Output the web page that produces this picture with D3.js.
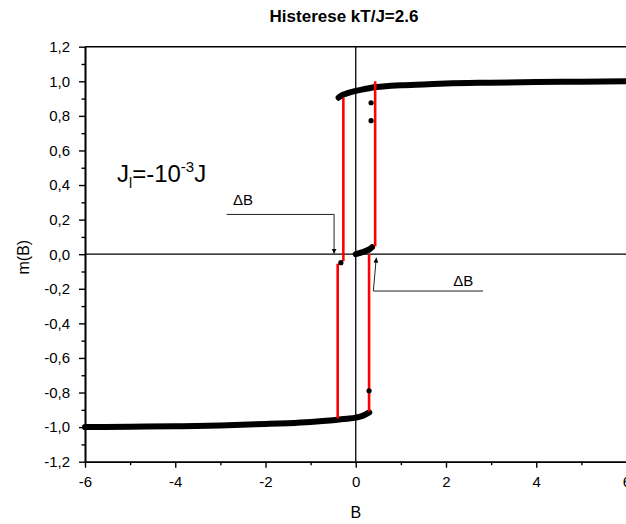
<!DOCTYPE html>
<html>
<head>
<meta charset="utf-8">
<script src="https://cdn.jsdelivr.net/npm/d3@7"></script>
<style>
  body { margin: 0; background: #fff; }
  svg { display: block; }
  text { font-family: Arial, "Liberation Sans", sans-serif; fill: #000; }
</style>
</head>
<body>
<svg id="chart" width="626" height="524"></svg>
<script>
// Hysteresis loop m(B), kT/J = 2.6

// lower (descending-field) branch
const lowerB = [-6, -5, -4, -3, -2, -1.5, -1, -0.5, -0.2, 0, 0.15, 0.3];
const lowerM = [-1.0, -0.998, -0.995, -0.99, -0.982, -0.977, -0.97, -0.96, -0.952, -0.945, -0.935, -0.915];

// upper branch
const upperB = [-0.38, -0.3, -0.2, 0, 0.2, 0.4, 0.6, 1, 1.5, 2, 3, 4, 5, 6];
const upperM = [0.905, 0.92, 0.93, 0.945, 0.955, 0.965, 0.97, 0.977, 0.982, 0.987, 0.992, 0.996, 0.998, 1.0];

// short intermediate branch near m = 0
const middleB = [0, 0.1, 0.2, 0.3, 0.36];
const middleM = [0.0, 0.008, 0.017, 0.028, 0.04];

// vertical jumps (red)
const jumpB    = [-0.275, -0.40, 0.43, 0.295];
const jumpFrom = [0.905, -0.055, 0.045, 0.0];
const jumpTo   = [-0.04, -0.95, 1.0, -0.91];

// isolated points
const dotB = [0.34, 0.34, -0.33, 0.295];
const dotM = [0.876, 0.772, -0.049, -0.79];

// axes
const xTicks = [-6, -4, -2, 0, 2, 4, 6];
const xTickLabels = ["-6", "-4", "-2", "0", "2", "4", "6"];
const xMinor = [-5, -3, -1, 1, 3, 5];
const yTicks = [-1.2, -1.0, -0.8, -0.6, -0.4, -0.2, 0.0, 0.2, 0.4, 0.6, 0.8, 1.0, 1.2];
const yTickLabels = ["-1,2", "-1,0", "-0,8", "-0,6", "-0,4", "-0,2", "0,0", "0,2", "0,4", "0,6", "0,8", "1,0", "1,2"];
const yMinor = [-1.1, -0.9, -0.7, -0.5, -0.3, -0.1, 0.1, 0.3, 0.5, 0.7, 0.9, 1.1];

const svg = d3.select("#chart");
const x = d3.scaleLinear().domain([-6, 6]).range([85, 626.5]);
const y = d3.scaleLinear().domain([-1.2, 1.2]).range([461.7, 46.7]);

// zero lines
svg.append("line").attr("x1", x(-6)).attr("x2", x(6)).attr("y1", y(0)).attr("y2", y(0))
  .attr("stroke", "#000").attr("stroke-width", 1.3);
svg.append("line").attr("x1", x(0)).attr("x2", x(0)).attr("y1", y(1.2)).attr("y2", y(-1.2))
  .attr("stroke", "#000").attr("stroke-width", 1.3);

// top frame line
svg.append("line").attr("x1", x(-6)).attr("x2", x(6)).attr("y1", y(1.2)).attr("y2", y(1.2))
  .attr("stroke", "#000").attr("stroke-width", 1.6);

// axes
svg.append("g").attr("transform", `translate(0,${y(-1.2)})`)
  .call(d3.axisBottom(x).tickValues(xTicks).tickFormat((d, i) => xTickLabels[i])
    .tickSize(6).tickSizeOuter(0).tickPadding(9));
svg.append("g").attr("transform", `translate(0,${y(-1.2)})`)
  .call(d3.axisBottom(x).tickValues(xMinor).tickFormat("").tickSize(3.5).tickSizeOuter(0));
svg.append("g").attr("transform", `translate(${x(-6)},0)`)
  .call(d3.axisLeft(y).tickValues(yTicks).tickFormat((d, i) => yTickLabels[i])
    .tickSize(6).tickSizeOuter(0).tickPadding(9));
svg.append("g").attr("transform", `translate(${x(-6)},0)`)
  .call(d3.axisLeft(y).tickValues(yMinor).tickFormat("").tickSize(3.5).tickSizeOuter(0));

svg.selectAll(".domain").attr("stroke", "#000").attr("stroke-width", 1.6);
svg.selectAll(".tick line").attr("stroke", "#000").attr("stroke-width", 1.4);
svg.selectAll(".tick text").attr("font-size", 15).attr("font-family", "Arial, 'Liberation Sans', sans-serif");

// branches
const line = d3.line().x(d => x(d[0])).y(d => y(d[1])).curve(d3.curveMonotoneX);
const branches = [
  d3.zip(lowerB, lowerM),
  d3.zip(upperB, upperM),
  d3.zip(middleB, middleM)
];
svg.append("g").selectAll("path").data(branches).join("path")
  .attr("d", line).attr("fill", "none").attr("stroke", "#000")
  .attr("stroke-width", 6).attr("stroke-linecap", "round");

// jumps
svg.append("g").selectAll("line").data(jumpB).join("line")
  .attr("x1", d => x(d)).attr("x2", d => x(d))
  .attr("y1", (d, i) => y(jumpFrom[i])).attr("y2", (d, i) => y(jumpTo[i]))
  .attr("stroke", "#ff0000").attr("stroke-width", 2.6);

// isolated points
svg.append("g").selectAll("circle").data(dotB).join("circle")
  .attr("cx", d => x(d)).attr("cy", (d, i) => y(dotM[i])).attr("r", 2.6).attr("fill", "#000");

// ΔB annotations
const defs = svg.append("defs");
defs.append("marker").attr("id", "arrow").attr("viewBox", "0 0 10 10")
  .attr("refX", 10).attr("refY", 5).attr("markerWidth", 5).attr("markerHeight", 10)
  .attr("markerUnits", "userSpaceOnUse").attr("orient", "auto")
  .append("path").attr("d", "M0,0 L10,5 L0,10 Z").attr("fill", "#000");

const annStroke = "#222";
// left
svg.append("line").attr("x1", x(-2.86)).attr("x2", x(-0.48)).attr("y1", y(0.23)).attr("y2", y(0.23))
  .attr("stroke", annStroke).attr("stroke-width", 1);
svg.append("line").attr("x1", x(-0.48)).attr("x2", x(-0.48)).attr("y1", y(0.23)).attr("y2", y(0.003))
  .attr("stroke", annStroke).attr("stroke-width", 1).attr("marker-end", "url(#arrow)");
svg.append("text").attr("x", x(-2.72)).attr("y", y(0.285)).attr("font-size", 15).text("\u0394B");
// right
svg.append("line").attr("x1", x(0.39)).attr("x2", x(2.82)).attr("y1", y(-0.213)).attr("y2", y(-0.213))
  .attr("stroke", annStroke).attr("stroke-width", 1);
svg.append("line").attr("x1", x(0.39)).attr("x2", x(0.455)).attr("y1", y(-0.213)).attr("y2", y(-0.02))
  .attr("stroke", annStroke).attr("stroke-width", 1).attr("marker-end", "url(#arrow)");
svg.append("text").attr("x", x(2.16)).attr("y", y(-0.184)).attr("font-size", 15).text("\u0394B");

// coupling label
const jl = svg.append("text").attr("x", 117).attr("y", 182).attr("font-size", 24);
jl.append("tspan").text("J");
jl.append("tspan").attr("font-size", 14).attr("dy", 6).text("l");
jl.append("tspan").attr("dy", -6).text("=-10");
jl.append("tspan").attr("font-size", 15).attr("dy", -10).text("-3");
jl.append("tspan").attr("dy", 10).text("J");

// title and axis labels
svg.append("text").attr("x", 344).attr("y", 22).attr("text-anchor", "middle")
  .attr("font-size", 17).attr("font-weight", "bold").text("Histerese kT/J=2.6");
svg.append("text").attr("x", x(0)).attr("y", 518).attr("text-anchor", "middle")
  .attr("font-size", 16).text("B");
svg.append("text").attr("transform", `translate(29,${y(0) + 3}) rotate(-90)`)
  .attr("text-anchor", "middle").attr("font-size", 16).text("m(B)");
</script>
</body>
</html>
